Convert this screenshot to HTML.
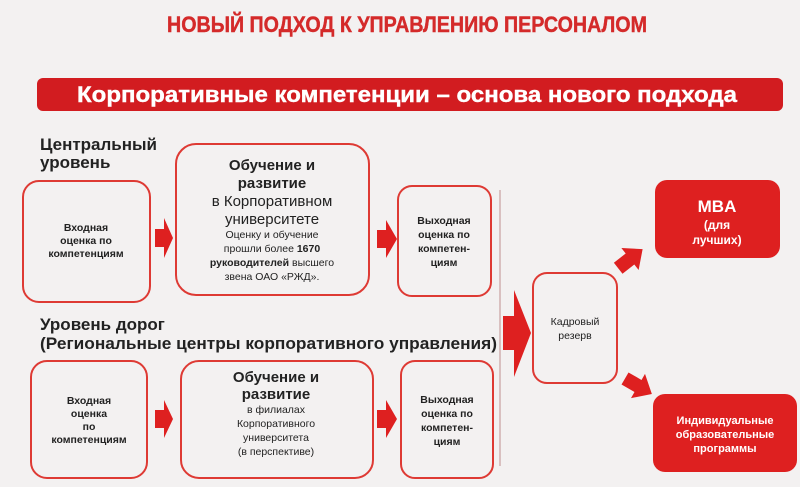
<!DOCTYPE html>
<html><head><meta charset="utf-8"><style>
html,body{margin:0;padding:0;background:#f3f1f1;}
svg{display:block;font-family:"Liberation Sans",Arial,sans-serif;}
.b{font-weight:700;}
</style></head><body>
<svg width="800" height="487" viewBox="0 0 800 487" xmlns="http://www.w3.org/2000/svg">
<rect width="800" height="487" fill="#f3f1f1"/>
<text class="b" x="407" y="32" text-anchor="middle" font-size="22" fill="#d42a2a" stroke="#d42a2a" stroke-width="0.4" textLength="480" lengthAdjust="spacingAndGlyphs" font-family="Liberation Sans Narrow, Liberation Sans, sans-serif">НОВЫЙ ПОДХОД К УПРАВЛЕНИЮ ПЕРСОНАЛОМ</text>
<rect x="37" y="78" width="746" height="33" rx="6" fill="#d21c20"/>
<text class="b" x="407" y="102" text-anchor="middle" font-size="22" fill="#fff" stroke="#fff" stroke-width="0.4" textLength="660" lengthAdjust="spacingAndGlyphs">Корпоративные компетенции – основа нового подхода</text>

<g class="b" font-size="17" fill="#222">
<text class="b" x="40" y="150">Центральный</text>
<text class="b" x="40" y="168">уровень</text>
<text class="b" x="40" y="330">Уровень дорог</text>
<text class="b" x="40" y="349" textLength="457" lengthAdjust="spacingAndGlyphs">(Региональные центры корпоративного управления)</text>
</g>

<g fill="none" stroke="#de3a34" stroke-width="2">
<rect x="23" y="181" width="127" height="121" rx="16"/>
<rect x="176" y="144" width="193" height="151" rx="20"/>
<rect x="398" y="186" width="93" height="110" rx="14"/>
<rect x="31" y="361" width="116" height="117" rx="16"/>
<rect x="181" y="361" width="192" height="117" rx="18"/>
<rect x="401" y="361" width="92" height="117" rx="14"/>
<rect x="533" y="273" width="84" height="110" rx="14"/>
</g>
<line x1="500" y1="190" x2="500" y2="466" stroke="#c8a0a0" stroke-width="1.2"/>

<g fill="#de2020">
<polygon points="155,229 164,229 164,218 173,238 164,258 164,247 155,247"/>
<polygon points="377,230 386,230 386,220 397,239 386,258 386,248 377,248"/>
<polygon points="155,410 164,410 164,400 173,419 164,438 164,428 155,428"/>
<polygon points="377,410 386,410 386,400 397,419 386,438 386,428 377,428"/>
<polygon points="503,316 514,316 514,290 531,333 514,377 514,350 503,350"/>
<polygon transform="translate(630,259) rotate(-38)" points="-15,-7 0,-7 0,-14 16,0 0,14 0,7 -15,7"/>
<polygon transform="translate(638,386) rotate(30)" points="-15,-7 0,-7 0,-14 16,0 0,14 0,7 -15,7"/>
<rect x="655" y="180" width="125" height="78" rx="12"/>
<rect x="653" y="394" width="144" height="78" rx="12"/>
</g>

<g text-anchor="middle" fill="#fff">
<text class="b" x="717" y="212" font-size="17">MBA</text>
<text class="b" x="717" y="229" font-size="12">(для</text>
<text class="b" x="717" y="244" font-size="12">лучших)</text>
<text class="b" x="725" y="424" font-size="11">Индивидуальные</text>
<text class="b" x="725" y="438" font-size="11">образовательные</text>
<text class="b" x="725" y="452" font-size="11">программы</text>
</g>

<g text-anchor="middle" fill="#222">
<g class="b" font-size="10.5">
<text x="86" y="231">Входная</text>
<text x="86" y="244">оценка по</text>
<text x="86" y="257">компетенциям</text>
<text x="444" y="224">Выходная</text>
<text x="444" y="238">оценка по</text>
<text x="444" y="252">компетен-</text>
<text x="444" y="266">циям</text>
<text x="89" y="404">Входная</text>
<text x="89" y="417">оценка</text>
<text x="89" y="430">по</text>
<text x="89" y="443">компетенциям</text>
<text x="447" y="403">Выходная</text>
<text x="447" y="417">оценка по</text>
<text x="447" y="431">компетен-</text>
<text x="447" y="445">циям</text>
</g>
<g font-size="15">
<text class="b" x="272" y="170">Обучение и</text>
<text class="b" x="272" y="188">развитие</text>
<text x="272" y="206">в Корпоративном</text>
<text x="272" y="224">университете</text>
<text class="b" x="276" y="382">Обучение и</text>
<text class="b" x="276" y="399">развитие</text>
</g>
<g font-size="10.5">
<text x="272" y="238">Оценку и обучение</text>
<text x="272" y="252">прошли более <tspan class="b">1670</tspan></text>
<text x="272" y="266"><tspan class="b">руководителей</tspan> высшего</text>
<text x="272" y="280">звена ОАО «РЖД».</text>
<text x="276" y="413">в филиалах</text>
<text x="276" y="427">Корпоративного</text>
<text x="276" y="441">университета</text>
<text x="276" y="455">(в перспективе)</text>
<text x="575" y="325">Кадровый</text>
<text x="575" y="339">резерв</text>
</g>
</g>
</svg>
</body></html>
